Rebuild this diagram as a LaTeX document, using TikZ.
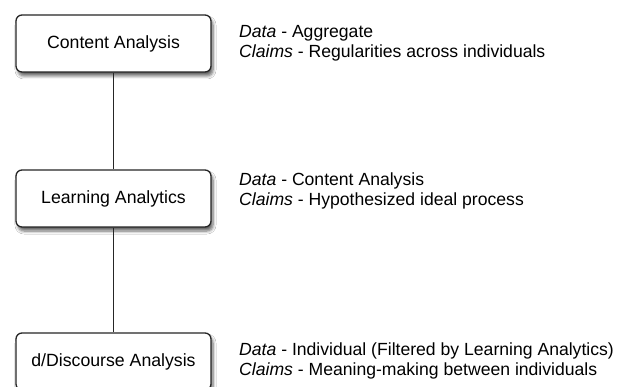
\documentclass[tikz,border=0pt]{standalone}
\usepackage{fontspec}
\setmainfont{Liberation Sans}
\usetikzlibrary{shadows,shadows.blur}
\begin{document}
\begin{tikzpicture}[x=1pt,y=-1pt,
  box/.style={draw=black!85, line width=1.3pt, rounded corners=6pt, fill=white,
    minimum width=195pt, minimum height=57pt, inner sep=0pt,
    font=\fontsize{17.7}{20}\selectfont,
    blur shadow={shadow xshift=2pt, shadow yshift=-4pt, shadow blur steps=6, shadow opacity=60, shadow blur radius=3pt}},
  desc/.style={anchor=west, align=left, inner sep=0pt, font=\fontsize{17.6}{20}\selectfont},
  link/.style={draw=black!85, line width=1.3pt}]
\useasboundingbox (0,0) rectangle (624,387);
\fill[white] (0,0) rectangle (624,387);
\node[box] (ca) at (113.5,43.5) {Content Analysis};
\node[box] (la) at (113.5,198.5) {Learning Analytics};
\node[box] (da) at (113.5,361.5) {d/Discourse Analysis};
\draw[link] (ca) -- (la);
\draw[link] (la) -- (da);
\node[desc] (cat) at (239,43) {\textit{Data} - Aggregate\\\textit{Claims} - Regularities across individuals};
\node[desc] (lat) at (239,191) {\textit{Data} - Content Analysis\\\textit{Claims} - Hypothesized ideal process};
\node[desc] (dat) at (239,361) {\textit{Data} - Individual (Filtered by Learning Analytics)\\\textit{Claims} - Meaning-making between individuals};
\end{tikzpicture}
\end{document}
